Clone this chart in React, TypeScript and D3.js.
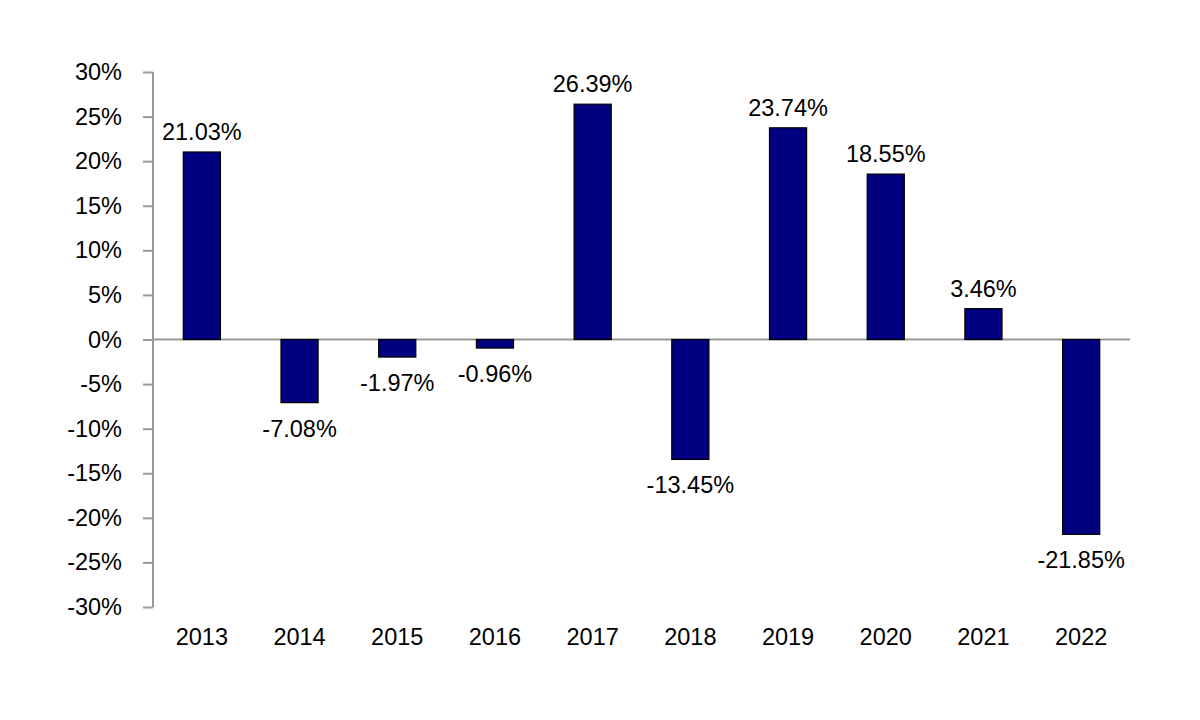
import React, { useEffect, useRef } from 'react';
import * as d3 from 'd3';

const years = ['2013', '2014', '2015', '2016', '2017', '2018', '2019', '2020', '2021', '2022'];
const returns = [21.03, -7.08, -1.97, -0.96, 26.39, -13.45, 23.74, 18.55, 3.46, -21.85];
const yTicks = [30, 25, 20, 15, 10, 5, 0, -5, -10, -15, -20, -25, -30];

const App: React.FC = () => {
  const svgRef = useRef<SVGSVGElement>(null);

  useEffect(() => {
    if (!svgRef.current) return;
    const svg = d3.select(svgRef.current);
    svg.selectAll('*').remove();

    const width = 1200;
    const height = 720;
    const left = 153;
    const right = 1130;
    const font = '"Liberation Sans", Arial, sans-serif';
    const fontSize = 23.5;

    svg.attr('viewBox', `0 0 ${width} ${height}`);

    const x = d3.scaleBand<string>()
      .domain(years)
      .range([left, right])
      .paddingInner(0.62)
      .paddingOuter(0.31);

    const y = d3.scaleLinear()
      .domain([-30, 30])
      .range([607, 72]);

    // y axis
    const axis = svg.append('g')
      .attr('transform', `translate(${left},0)`)
      .call(d3.axisLeft(y).tickValues(yTicks).tickSize(10).tickPadding(21).tickFormat(d => `${d}%`));
    axis.select('.domain').attr('stroke', '#999').attr('stroke-width', 2).attr('d', `M0,${y(30)}V${y(-30)}`);
    axis.selectAll('.tick line').attr('stroke', '#999').attr('stroke-width', 2);
    axis.selectAll('.tick text')
      .attr('font-family', font)
      .attr('font-size', fontSize)
      .attr('fill', '#000');

    // zero line
    svg.append('line')
      .attr('x1', left)
      .attr('x2', right)
      .attr('y1', y(0))
      .attr('y2', y(0))
      .attr('stroke', '#999')
      .attr('stroke-width', 2);

    const data = years.map((yr, i) => ({ yr, v: returns[i] }));

    // bars
    svg.selectAll('.bar')
      .data(data)
      .enter()
      .append('rect')
      .attr('class', 'bar')
      .attr('x', d => x(d.yr)!)
      .attr('width', x.bandwidth())
      .attr('y', d => y(Math.max(0, d.v)))
      .attr('height', d => Math.abs(y(d.v) - y(0)))
      .attr('fill', '#000080')
      .attr('stroke', '#000')
      .attr('stroke-width', 1.2);

    // value labels
    svg.selectAll('.lbl')
      .data(data)
      .enter()
      .append('text')
      .attr('class', 'lbl')
      .attr('x', d => x(d.yr)! + x.bandwidth() / 2)
      .attr('y', d => (d.v >= 0 ? y(d.v) - 12 : y(d.v) + 34))
      .attr('text-anchor', 'middle')
      .attr('font-family', font)
      .attr('font-size', fontSize)
      .attr('fill', '#000')
      .text(d => `${d.v.toFixed(2)}%`);

    // year labels
    svg.selectAll('.yr')
      .data(years)
      .enter()
      .append('text')
      .attr('class', 'yr')
      .attr('x', d => x(d)! + x.bandwidth() / 2)
      .attr('y', 645)
      .attr('text-anchor', 'middle')
      .attr('font-family', font)
      .attr('font-size', fontSize)
      .attr('fill', '#000')
      .text(d => d);
  }, []);

  return (
    <div style={{ position: 'absolute', left: 0, top: 0, width: 1200, height: 720, background: '#fff' }}>
      <svg ref={svgRef} width={1200} height={720} style={{ display: 'block' }}></svg>
    </div>
  );
};

export default App;
